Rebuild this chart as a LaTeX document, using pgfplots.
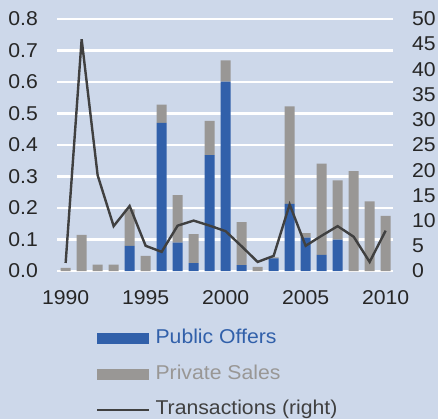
\documentclass[border=0pt]{standalone}
\usepackage{fontspec}
\setmainfont{Liberation Sans}[FakeStretch=1.06]
\usepackage{pgfplots}
\usepackage{pgfplotstable}
\pgfplotsset{compat=1.18}
\definecolor{bg}{RGB}{205,216,234}
\definecolor{pub}{RGB}{49,96,170}
\definecolor{priv}{RGB}{153,151,149}
\definecolor{trline}{RGB}{64,64,64}
\definecolor{txt}{RGB}{38,38,38}

\pgfplotstableread{
year pub priv trans
1990 0.000 0.010 1.6
1991 0.000 0.115 46.0
1992 0.000 0.020 19.0
1993 0.000 0.020 8.9
1994 0.080 0.116 12.9
1995 0.000 0.048 5.0
1996 0.470 0.058 3.8
1997 0.090 0.151 9.0
1998 0.025 0.092 10.0
1999 0.368 0.109 9.0
2000 0.601 0.068 7.9
2001 0.019 0.136 4.9
2002 0.000 0.013 1.8
2003 0.040 0.003 3.0
2004 0.213 0.310 13.2
2005 0.106 0.014 5.0
2006 0.051 0.290 7.0
2007 0.100 0.188 8.9
2008 0.000 0.317 6.8
2009 0.000 0.221 1.8
2010 0.000 0.175 8.0
}\data

\begin{document}
\begin{tikzpicture}
\fill[bg] (-57pt,-148pt) rectangle (381pt,271pt);
\begin{axis}[
  scale only axis, width=336pt, height=252pt,
  xmin=1989.46, xmax=2010.46, ymin=0, ymax=0.8,
  axis line style={draw=none},
  major tick length=0pt,
  xtick={1990,1995,2000,2005,2010},
  xticklabels={1990,1995,2000,2005,2010},
  ytick={0,0.1,0.2,0.3,0.4,0.5,0.6,0.7,0.8},
  yticklabels={0.0,0.1,0.2,0.3,0.4,0.5,0.6,0.7,0.8},
  ymajorgrids, grid style={white, line width=2.5pt},
  tick label style={font=\fontsize{20}{24}\selectfont, text=txt, inner sep=0pt},
  yticklabel style={anchor=east, xshift=-19pt},
  xticklabel style={anchor=north, yshift=-19.5pt},
  ybar stacked, bar width=10pt,
  legend cell align=left,
  legend style={draw=none, fill=none, inner sep=0pt, anchor=north west,
    at={(axis description cs:0.116,-0.2313)},
    font=\fontsize{20}{24}\selectfont,
    nodes={inner sep=0pt, text height=14.5pt, text depth=4.5pt},
    column sep=5pt, row sep=16.5pt},
]
\addplot[fill=pub, draw=none,
  legend image code/.code={\fill[pub] (0pt,-5.5pt) rectangle (52pt,5.5pt);}]
  table[x=year,y=pub]{\data};
\addlegendentry{\textcolor{pub}{Public Offers}}
\addplot[fill=priv, draw=none,
  legend image code/.code={\fill[priv] (0pt,-5.5pt) rectangle (52pt,5.5pt);}]
  table[x=year,y=priv]{\data};
\addlegendentry{\textcolor{priv}{Private Sales}}
\addlegendimage{legend image code/.code={\draw[trline, line width=2.4pt] (0pt,0pt) -- (52pt,0pt);}}
\addlegendentry{\textcolor{trline}{Transactions (right)}}
\draw[white, line width=3pt] (axis cs:1989.46,0) -- (axis cs:2010.46,0);
\end{axis}
\begin{axis}[
  scale only axis, width=336pt, height=252pt,
  xmin=1989.46, xmax=2010.46, ymin=0, ymax=50,
  axis line style={draw=none},
  major tick length=0pt,
  xtick=\empty,
  ytick={0,5,10,15,20,25,30,35,40,45,50},
  yticklabels={0,5,10,15,20,25,30,35,40,45,50},
  axis y line*=right,
  tick label style={font=\fontsize{20}{24}\selectfont, text=txt, inner sep=0pt},
  yticklabel style={anchor=west, xshift=19pt},
]
\addplot[trline, line width=2.4pt, mark=none] table[x=year,y=trans]{\data};
\end{axis}
\end{tikzpicture}
\end{document}
